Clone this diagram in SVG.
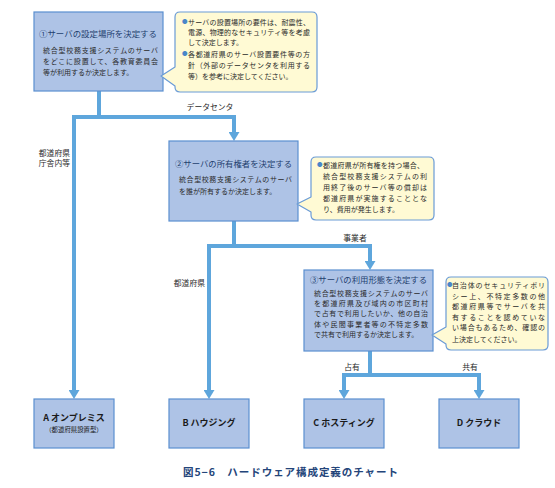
<svg xmlns="http://www.w3.org/2000/svg" width="555" height="488" viewBox="0 0 555 488">
<style>
text{font-family:"Noto Sans CJK JP","Noto Sans",sans-serif;}
.box{fill:#aec3e6;stroke:#5a8fd0;stroke-width:1.2;}
.call{fill:#fffad4;stroke:#6a9bd6;stroke-width:1.2;stroke-linejoin:round;}
.title{font-size:8.4px;fill:#23406e;}
.body{font-size:7px;fill:#2a2a2a;}
.ct{font-size:7px;fill:#2a2a2a;}
.bul{font-size:5.5px;fill:#4a86c8;}
.lbl{font-size:7.8px;fill:#2a2a2a;}
.name{font-size:9px;fill:#1a1a1a;font-weight:bold;}
.sub{font-size:6.4px;fill:#1a1a1a;}
.con{fill:none;stroke:#5ea6dc;stroke-width:4;stroke-linejoin:miter;marker-end:url(#ah);}
.cap{font-size:10.5px;font-weight:bold;fill:#24457a;}
</style>
<defs>
<marker id="ah" viewBox="0 0 9 11" refX="0" refY="5.5" markerWidth="9" markerHeight="11" markerUnits="userSpaceOnUse" orient="auto">
<path d="M0,0 L9,5.5 L0,11 z" fill="#5ea6dc"/>
</marker>
</defs>

<g id="connectors">
<path class="con" d="M99,91 V117 H234 V132"/>
<path class="con" d="M99,117 H74 V390"/>
<path class="con" d="M234,221 V246 H370 V261"/>
<path class="con" d="M234,246 H209 V390"/>
<path class="con" d="M370,351 V375 H344 V390"/>
<path class="con" d="M370,375 H479 V390"/>
<text class="lbl" x="210" y="110" text-anchor="middle">データセンタ</text>
<text class="lbl" x="70" y="156" text-anchor="end">都道府県</text>
<text class="lbl" x="70" y="166" text-anchor="end">庁舎内等</text>
<text class="lbl" x="355" y="241" text-anchor="middle">事業者</text>
<text class="lbl" x="205" y="286" text-anchor="end">都道府県</text>
<text class="lbl" x="352" y="370" text-anchor="middle">占有</text>
<text class="lbl" x="470" y="370" text-anchor="middle">共有</text>
</g>

<g id="step1">
<rect class="box" x="34" y="12" width="129" height="79"/>
<text class="title" x="39" y="37" textLength="118" lengthAdjust="spacingAndGlyphs">①サーバの設定場所を決定する</text>
<text class="body" x="43" y="52.5" textLength="115" lengthAdjust="spacing">統合型校務支援システムのサーバ</text>
<text class="body" x="43" y="63.5" textLength="115" lengthAdjust="spacing">をどこに設置して、各教育委員会</text>
<text class="body" x="43" y="74.5">等が利用するか決定します。</text>
</g>

<g id="note1">
<path class="call" d="M180,12 H312 Q317,12 317,17 V87 Q317,92 312,92 H180 Q175,92 175,87 V86 L161,76 L175,67 V17 Q175,12 180,12 Z"/>
<text class="bul" x="182" y="24">●</text>
<text class="ct" x="188" y="24.5" textLength="122" lengthAdjust="spacing">サーバの設置場所の要件は、耐震性、</text>
<text class="ct" x="188" y="34.5" textLength="122" lengthAdjust="spacing">電源、物理的なセキュリティ等を考慮</text>
<text class="ct" x="188" y="44.5">して決定します。</text>
<text class="bul" x="182" y="56">●</text>
<text class="ct" x="188" y="56.5" textLength="122" lengthAdjust="spacing">各都道府県のサーバ設置要件等の方</text>
<text class="ct" x="188" y="67.5" textLength="122" lengthAdjust="spacing">針（外部のデータセンタを利用する</text>
<text class="ct" x="188" y="78.5">等）を参考に決定してください。</text>
</g>

<g id="step2">
<rect class="box" x="169" y="141" width="129" height="80"/>
<text class="title" x="175" y="167" textLength="117" lengthAdjust="spacingAndGlyphs">②サーバの所有権者を決定する</text>
<text class="body" x="179" y="181.5" textLength="113" lengthAdjust="spacing">統合型校務支援システムのサーバ</text>
<text class="body" x="179" y="193.5">を誰が所有するか決定します。</text>
</g>

<g id="note2">
<path class="call" d="M316,157 H429 Q434,157 434,162 V215 Q434,220 429,220 H316 Q311,220 311,215 V212 L297,204 L311,197 V162 Q311,157 316,157 Z"/>
<text class="bul" x="317" y="167">●</text>
<text class="ct" x="323" y="167.5" textLength="101" lengthAdjust="spacing">都道府県が所有権を持つ場合、</text>
<text class="ct" x="323" y="178.5" textLength="104" lengthAdjust="spacing">統合型校務支援システムの利</text>
<text class="ct" x="323" y="189.5" textLength="104" lengthAdjust="spacing">用終了後のサーバ等の償却は</text>
<text class="ct" x="323" y="200.5" textLength="104" lengthAdjust="spacing">都道府県が実施することとな</text>
<text class="ct" x="323" y="211.5">り、費用が発生します。</text>
</g>

<g id="step3">
<rect class="box" x="304" y="270" width="129" height="81"/>
<text class="title" x="310" y="283" textLength="117" lengthAdjust="spacingAndGlyphs">③サーバの利用形態を決定する</text>
<text class="body" x="314" y="295.8" textLength="114" lengthAdjust="spacing">統合型校務支援システムのサーバ</text>
<text class="body" x="314" y="306" textLength="114" lengthAdjust="spacing">を都道府県及び域内の市区町村</text>
<text class="body" x="314" y="316.2" textLength="114" lengthAdjust="spacing">で占有で利用したいか、他の自治</text>
<text class="body" x="314" y="326.5" textLength="114" lengthAdjust="spacing">体や民間事業者等の不特定多数</text>
<text class="body" x="314" y="336.7">で共有で利用するか決定します。</text>
</g>

<g id="note3">
<path class="call" d="M451,277 H543 Q548,277 548,282 V345 Q548,350 543,350 H451 Q446,350 446,345 V344 L432,335 L446,327 V282 Q446,277 451,277 Z"/>
<text class="bul" x="447" y="287">●</text>
<text class="ct" x="452" y="287.5" textLength="93" lengthAdjust="spacing">自治体のセキュリティポリ</text>
<text class="ct" x="452" y="298.5" textLength="93" lengthAdjust="spacing">シー上、不特定多数の他</text>
<text class="ct" x="452" y="308.8" textLength="93" lengthAdjust="spacing">都道府県等でサーバを共</text>
<text class="ct" x="452" y="319.5" textLength="93" lengthAdjust="spacing">有することを認めていな</text>
<text class="ct" x="452" y="329.8" textLength="93" lengthAdjust="spacing">い場合もあるため、確認の</text>
<text class="ct" x="452" y="341.5">上決定してください。</text>
</g>

<g id="optA">
<rect class="box" x="34" y="399" width="80" height="49"/>
<text class="name" x="74" y="421" text-anchor="middle">A オンプレミス</text>
<text class="sub" x="74" y="431.5" text-anchor="middle">（都道府県設置型）</text>
</g>
<g id="optB">
<rect class="box" x="169" y="399" width="80" height="49"/>
<text class="name" x="209" y="426" text-anchor="middle">B ハウジング</text>
</g>
<g id="optC">
<rect class="box" x="304" y="399" width="80" height="49"/>
<text class="name" x="344" y="426" text-anchor="middle">C ホスティング</text>
</g>
<g id="optD">
<rect class="box" x="439" y="399" width="80" height="49"/>
<text class="name" x="479" y="426" text-anchor="middle">D クラウド</text>
</g>

<text class="cap" x="183" y="476" textLength="215" lengthAdjust="spacing">図5−6　ハードウェア構成定義のチャート</text>
</svg>
